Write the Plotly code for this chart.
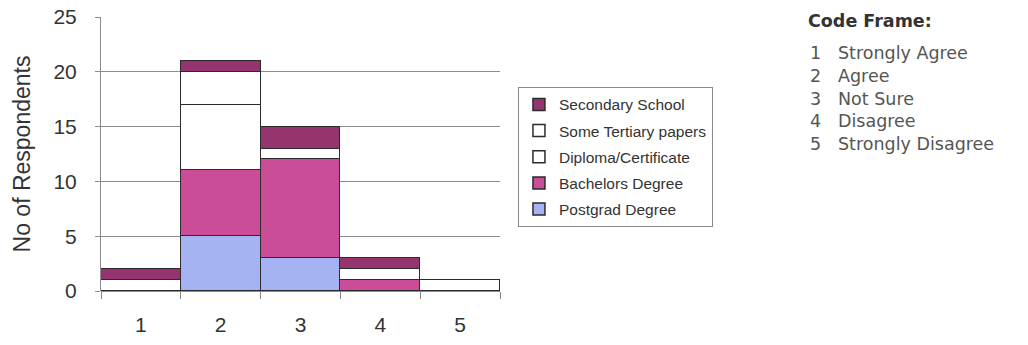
import plotly.graph_objects as go

# Likert response codes on the x axis
categories = [1, 2, 3, 4, 5]
tick_labels = ["1", "2", "3", "4", "5"]

# Respondents per highest qualification, stacked bottom to top
postgrad = [0, 5, 3, 0, 0]
bachelors = [0, 6, 9, 1, 0]
diploma = [1, 6, 1, 1, 1]
some_tertiary = [0, 3, 0, 0, 0]
secondary = [1, 1, 2, 1, 0]

series = [
    ("Postgrad Degree", postgrad, "#A6B3F3"),
    ("Bachelors Degree", bachelors, "#CB4C97"),
    ("Diploma/Certificate", diploma, "#FFFFFF"),
    ("Some Tertiary papers", some_tertiary, "#FFFFFF"),
    ("Secondary School", secondary, "#96346F"),
]

code_numbers = ["1", "2", "3", "4", "5"]
code_labels = ["Strongly Agree", "Agree", "Not Sure", "Disagree", "Strongly Disagree"]

fig = go.Figure()
n = len(series)
for i, (name, vals, color) in enumerate(series):
    fig.add_trace(go.Bar(
        x=categories, y=vals, name=name, legendgroup=name,
        legendrank=n - i,  # top of the stack listed first
        marker=dict(color=color, line=dict(color="#2b2b2b", width=1.5)),
        width=1,
    ))

fig.update_layout(
    width=1028, height=345,
    margin=dict(l=101, r=528, t=17, b=54),
    barmode="stack", bargap=0,
    plot_bgcolor="white", paper_bgcolor="white",
    font=dict(family="Liberation Sans, Arial, sans-serif", color="#333333"),
    showlegend=True,
    legend=dict(
        x=1.045, y=0.745, xanchor="left", yanchor="top",
        traceorder="grouped", tracegroupgap=3,
        bordercolor="#8a8a8a", borderwidth=1, bgcolor="white",
        font=dict(size=15.5, color="#333333"),
    ),
    xaxis=dict(
        range=[0.5, 5.5], tickvals=categories, ticktext=tick_labels,
        ticks="", showgrid=False, zeroline=False, showline=False,
        tickfont=dict(size=21), ticklabelstandoff=19, automargin=False,
        minor=dict(tick0=0.5, dtick=1, ticks="outside", ticklen=7,
                   tickcolor="#888888", showgrid=False),
    ),
    yaxis=dict(
        range=[0, 25], dtick=5, showgrid=True, gridcolor="#8c8c8c", gridwidth=1,
        zeroline=True, zerolinecolor="#8c8c8c", zerolinewidth=1,
        showline=True, linecolor="#8c8c8c", linewidth=1,
        ticks="outside", ticklen=5, tickcolor="#8c8c8c",
        tickfont=dict(size=21), ticklabelstandoff=14, automargin=False,
        title=dict(text="No of Respondents", font=dict(size=23), standoff=16),
    ),
)

# Code frame key to the right of the chart
code_font = dict(family="DejaVu Sans, Verdana, sans-serif", size=17.5, color="#555555")
fig.add_annotation(
    xref="paper", yref="paper", x=(806 - 101) / 399, y=(291 - 21) / 274,
    xanchor="left", yanchor="middle", showarrow=False, align="left",
    text="<b>Code Frame:</b>",
    font=dict(family="DejaVu Sans, Verdana, sans-serif", size=17.5, color="#333333"),
)
fig.add_annotation(
    xref="paper", yref="paper", x=(808 - 101) / 399, y=(291 - 41) / 274,
    xanchor="left", yanchor="top", showarrow=False, align="left",
    text="<br>".join(code_numbers), font=code_font,
)
fig.add_annotation(
    xref="paper", yref="paper", x=(836 - 101) / 399, y=(291 - 41) / 274,
    xanchor="left", yanchor="top", showarrow=False, align="left",
    text="<br>".join(code_labels), font=code_font,
)

fig.write_html("out.html")
